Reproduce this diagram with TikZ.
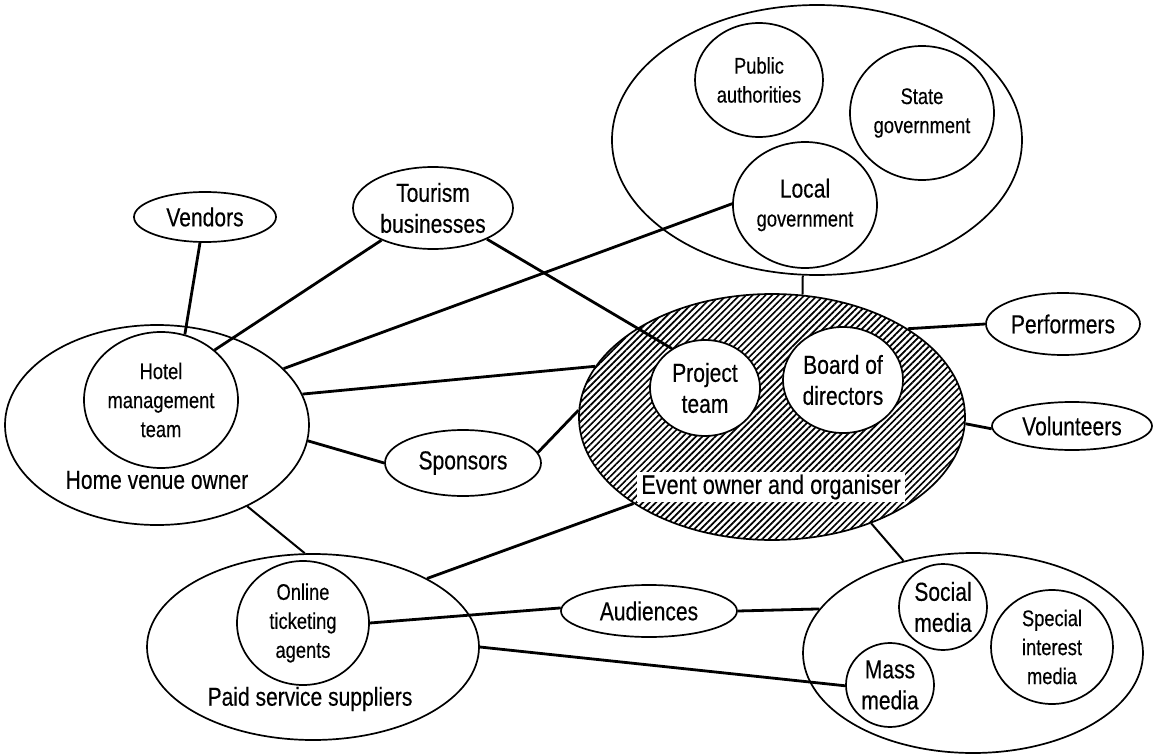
\documentclass[tikz,border=0pt]{standalone}
\usepackage{fontspec}
\setmainfont{Liberation Sans}[FakeStretch=0.81, FakeBold=0.3]
\usetikzlibrary{shapes.geometric, patterns.meta}

\begin{document}
\begin{tikzpicture}[x = 0.5pt, y = -0.5pt,
    party/.style = {draw, ellipse, line width = 0.85pt, inner sep = 0pt, align = center},
    bigText/.style = {font = \fontsize{13}{15.5}\selectfont},
    smallText/.style = {font = \fontsize{11.3}{14.5}\selectfont},
    link/.style = {line width = 1.4pt},
    thinLink/.style = {line width = 1pt}]

    \useasboundingbox (0, 0) rectangle (1153, 755);

    % hatch params
    \def\hatchGap{2.3pt}
    \def\hatchWidth{0.85pt}

    % draw government
    \node[party, minimum width = 205pt, minimum height = 135pt] (gov) at (817, 140) {};
    \node[party, smallText, minimum width = 64pt, minimum height = 57pt] (pubAuth) at (759, 80) {Public\\authorities};
    \node[party, smallText, minimum width = 72pt, minimum height = 67pt] (stateGov) at (922, 113) {State\\government};
    \node[party, smallText, minimum width = 72pt, minimum height = 63pt] (localGov) at (805, 205) {\fontsize{13}{16}\selectfont Local\\government};

    % draw event owner
    \node[party, pattern = {Lines[angle = 45, distance = \hatchGap, line width = \hatchWidth]}, minimum width = 193pt, minimum height = 123pt] (event) at (772, 417) {};
    \node[party, bigText, fill = white, minimum width = 55pt, minimum height = 48pt] (project) at (705, 388) {Project\\team};
    \node[party, bigText, fill = white, minimum width = 60pt, minimum height = 53pt] (board) at (843, 380) {Board of\\directors};
    \node[fill = white, inner xsep = 2pt, inner ysep = 1.5pt, font = \fontsize{13.4}{15}\selectfont] (eventLabel) at (771, 487) {Event owner and organiser};

    % draw home venue owner
    \node[party, minimum width = 152pt, minimum height = 100pt] (home) at (157, 425) {};
    \node[party, smallText, minimum width = 77pt, minimum height = 68pt] (hotel) at (161, 400) {Hotel\\management\\team};
    \node[bigText] (homeLabel) at (157, 480) {Home venue owner};

    % draw paid service suppliers
    \node[party, minimum width = 166pt, minimum height = 93pt] (paid) at (313, 647) {};
    \node[party, smallText, minimum width = 66pt, minimum height = 62pt] (online) at (303, 623) {Online\\ticketing\\agents};
    \node[bigText] (paidLabel) at (310, 699) {Paid service suppliers};

    % draw media
    \node[party, minimum width = 170pt, minimum height = 100pt] (media) at (973, 653) {};
    \node[party, bigText, minimum width = 44pt, minimum height = 43pt] (social) at (943, 607) {Social\\media};
    \node[party, smallText, minimum width = 61pt, minimum height = 57pt] (special) at (1052, 647) {Special\\interest\\media};
    \node[party, bigText, minimum width = 44pt, minimum height = 42pt] (mass) at (890, 685) {Mass\\media};

    % draw single stakeholders
    \node[party, bigText, minimum width = 71pt, minimum height = 25pt] (vendors) at (205, 217) {Vendors};
    \node[party, bigText, minimum width = 80pt, minimum height = 41pt] (tourism) at (433, 208) {Tourism\\businesses};
    \node[party, bigText, minimum width = 78pt, minimum height = 33pt] (sponsors) at (463, 463) {Sponsors};
    \node[party, bigText, minimum width = 88pt, minimum height = 26pt] (audiences) at (649, 611) {Audiences};
    \node[party, bigText, minimum width = 77pt, minimum height = 31pt] (performers) at (1063, 324) {Performers};
    \node[party, bigText, minimum width = 80pt, minimum height = 24pt] (volunteers) at (1072, 426) {Volunteers};

    % draw links
    \draw[link] (vendors.-101) -- (hotel.70);
    \draw[link] (tourism.212) -- (hotel.43);
    \draw[link] (tourism.-30) -- (project.130);
    \draw[link] (localGov.179) -- (home.24);
    \draw[thinLink] (gov.-96) -- (event.76);
    \draw[link] (home.12) -- (event.164);
    \draw[link] (home.-6) -- (sponsors.180);
    \draw[link] (sponsors.8) -- (event.178);
    \draw[thinLink] (home.-42) -- (paid.95);
    \draw[link] (paid.31) -- (event.212);
    \draw[link] (online.0) -- (audiences.178);
    \draw[link] (audiences.0) -- (media.164);
    \draw[link] (paid.0) -- (mass.181);
    \draw[thinLink] (event.-47) -- (media.127);
    \draw[link] (event.33) -- (performers.180);
    \draw[link] (event.-2) -- (volunteers.182);

\end{tikzpicture}
\end{document}
